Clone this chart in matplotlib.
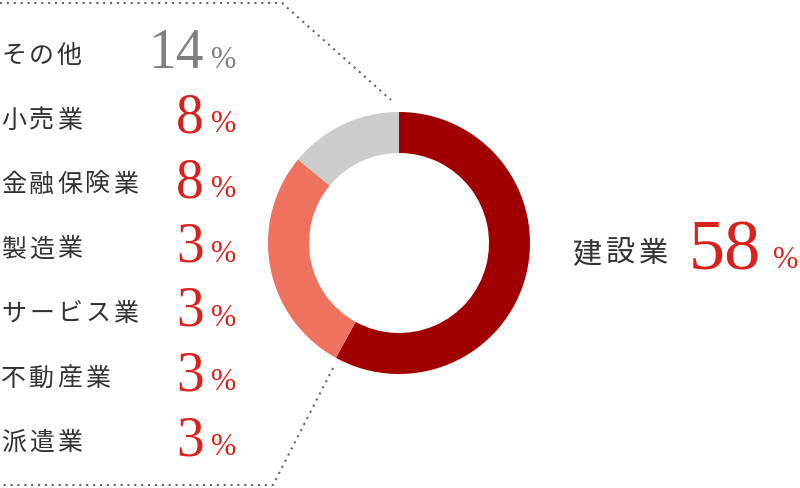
import matplotlib.pyplot as plt

# データ
main_label = "建設業"
main_value = 58
other_labels = ["その他", "小売業", "金融保険業", "製造業", "サービス業", "不動産業", "派遣業"]
other_values = [14, 8, 8, 3, 3, 3, 3]

# ドーナツの区分: 建設業 / その他以外の業種 / その他
ring_values = [main_value, sum(other_values[1:]), other_values[0]]
ring_colors = ["#A10000", "#EF725F", "#CCCCCC"]

W, H = 800, 488
fig = plt.figure(figsize=(8, 4.88), dpi=100)
ax = fig.add_axes([0, 0, 1, 1])

def py(y):
    # ピクセル座標(上から)をデータ座標へ
    return H - y

jp = ["Noto Sans CJK JP", "DejaVu Sans"]
serif = "Liberation Serif"
red = "#D8221E"
gray_num = "#808080"
label_col = "#333333"

# 点線
dot = dict(color="#666666", lw=1.5, linestyle=(0, (1, 2.3)), dash_capstyle="butt")
ax.plot([0, 282, 391], [py(3), py(3), py(100)], **dot)
ax.plot([333, 273, 0], [py(368), py(485), py(485)], **dot)

# ドーナツ
ax.pie(ring_values, colors=ring_colors, startangle=90, counterclock=False,
       center=(399, py(243)), radius=131, frame=True,
       wedgeprops=dict(width=41, linewidth=0))
ax.set_xlim(0, W)
ax.set_ylim(0, H)
ax.set_aspect("equal")
ax.axis("off")

# 左側のリスト
for i, (lab, val) in enumerate(zip(other_labels, other_values)):
    base = 68 + 64.5 * i
    for j, ch in enumerate(lab):
        ax.text(1 + 28 * j, py(base - 12), ch, family=jp, fontsize=18,
                color=label_col, ha="left", va="center")
    col = gray_num if i == 0 else red
    ax.text(204, py(base), str(val), family=serif, fontsize=40,
            color=col, ha="right", va="baseline")
    ax.text(236, py(base), "%", family=serif, fontsize=22,
            color=col, ha="right", va="baseline")

# 右側
for j, ch in enumerate(main_label):
    ax.text(572 + 33.5 * j, py(254), ch, family=jp, fontsize=21,
            color=label_col, ha="left", va="center")
ax.text(761, py(270), str(main_value), family=serif, fontsize=52,
        color=red, ha="right", va="baseline")
ax.text(798, py(268), "%", family=serif, fontsize=22,
        color=red, ha="right", va="baseline")

fig.savefig("out.png", dpi=100, facecolor="white")
